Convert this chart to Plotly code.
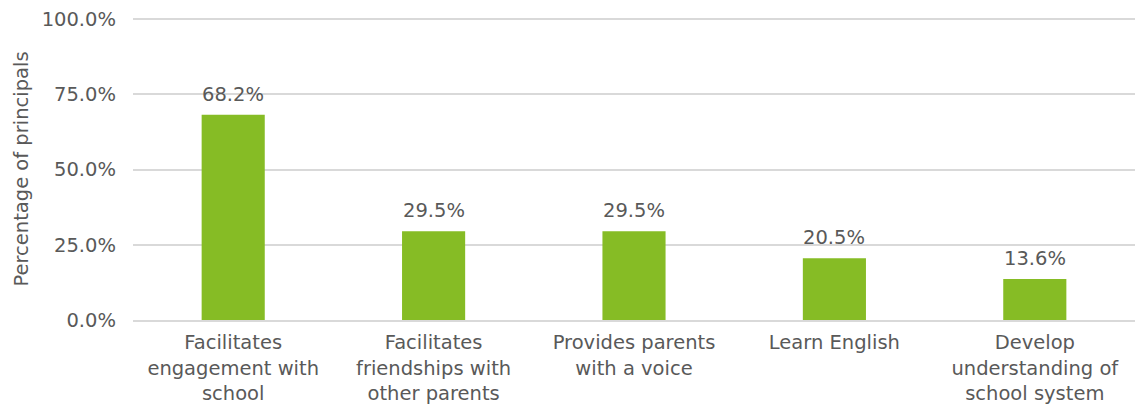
import plotly.graph_objects as go

categories = ["Facilitates<br>engagement with<br>school", "Facilitates<br>friendships with<br>other parents",
              "Provides parents<br>with a voice", "Learn English", "Develop<br>understanding of<br>school system"]
values = [68.2, 29.5, 29.5, 20.5, 13.6]
tick_vals = [0, 25, 50, 75, 100]
tick_text = ["0.0%", "25.0%", "50.0%", "75.0%", "100.0%"]

FONT = "DejaVu Sans"
GREY = "#595959"
FS = 19.5

fig = go.Figure(go.Bar(
    x=categories, y=values,
    marker=dict(color="#86BC25", line=dict(width=0)),
    hoverinfo="x+y",
))
for c, v in zip(categories, values):
    fig.add_annotation(x=c, y=v, text=f"{v:.1f}%", showarrow=False,
                       yanchor="bottom", yshift=7,
                       font=dict(family=FONT, size=FS, color=GREY))
fig.update_layout(
    width=1135, height=405,
    margin=dict(l=133, r=0, t=18, b=85),
    paper_bgcolor="white", plot_bgcolor="white",
    bargap=0.685, showlegend=False,
    font=dict(family=FONT, size=FS, color=GREY),
)
fig.update_xaxes(tickfont=dict(family=FONT, size=FS, color=GREY), showline=True,
                 linecolor="#D9D9D9", linewidth=1.5, ticks="", ticklabelstandoff=4)
fig.update_yaxes(range=[0, 100.4], tickvals=tick_vals, ticktext=tick_text,
                 gridcolor="#D9D9D9", gridwidth=1.5, zeroline=False,
                 tickfont=dict(family=FONT, size=FS, color=GREY), ticklabelstandoff=16,
                 title=dict(text="Percentage of principals", font=dict(family=FONT, size=19.5, color=GREY), standoff=7))
fig.write_html("out.html")
